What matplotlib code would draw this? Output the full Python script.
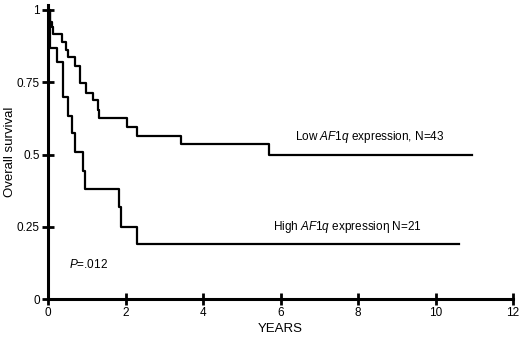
import matplotlib
matplotlib.use("Agg")
import matplotlib.pyplot as plt

plt.rcParams['font.family'] = ['Liberation Sans', 'DejaVu Sans']
plt.rcParams['mathtext.fontset'] = 'custom'
plt.rcParams['mathtext.rm'] = 'Liberation Sans'
plt.rcParams['mathtext.it'] = 'Liberation Sans:italic'

# Kaplan-Meier step data (years, survival)
low_time = [0, 0.05, 0.095, 0.12, 0.37, 0.46, 0.52, 0.70, 0.83, 0.97, 1.17, 1.30, 1.32,
            2.03, 2.29, 3.43, 5.70, 10.93]
low_surv = [1.0, 0.96, 0.94, 0.917, 0.89, 0.86, 0.836, 0.805, 0.746, 0.714, 0.687, 0.654,
            0.625, 0.594, 0.565, 0.535, 0.5, 0.5]

high_time = [0, 0.05, 0.22, 0.39, 0.52, 0.61, 0.70, 0.91, 0.95, 1.84, 1.88, 2.30, 10.6]
high_surv = [1.0, 0.868, 0.821, 0.70, 0.633, 0.573, 0.51, 0.444, 0.38, 0.317, 0.25, 0.19, 0.19]

x_ticks = [0, 2, 4, 6, 8, 10, 12]
y_ticks = [0, 0.25, 0.5, 0.75, 1]
y_tick_labels = ['0', '0.25', '0.5', '0.75', '1']

fig = plt.figure(figsize=(5.2, 3.4), dpi=100)
ax = fig.add_axes([48/520, 1 - 299/340, (513 - 48)/520, (299 - 5)/340])

ax.step(low_time, low_surv, where='post', color='black', lw=1.6)
ax.step(high_time, high_surv, where='post', color='black', lw=1.6)

ax.set_xlim(0, 12)
ax.set_ylim(0, 1 + 5/289)
ax.spines['top'].set_visible(False)
ax.spines['right'].set_visible(False)
for s in ('left', 'bottom'):
    ax.spines[s].set_linewidth(2.2)
ax.set_xticks(x_ticks)
ax.set_yticks(y_ticks)
ax.set_yticklabels(y_tick_labels)
ax.tick_params(direction='inout', length=8, width=2, labelsize=8.5, pad=2)

ax.set_xlabel('YEARS', fontsize=9.5, labelpad=3)
ax.set_ylabel('Overall survival', fontsize=9.5, va='center')
ax.yaxis.set_label_coords(-38/465, 0.5)

ax.text(6.37, 0.56, r'Low $\mathit{AF1q}$ expression, N=43', fontsize=8.5, va='center', ha='left')
ax.text(5.8, 0.25, r'High $\mathit{AF1q}$ expressioη N=21', fontsize=8.5, va='center', ha='left')
ax.text(0.54, 0.12, r'$\mathit{P}$=.012', fontsize=8.5, va='center', ha='left')

fig.savefig('out.png', dpi=100)
